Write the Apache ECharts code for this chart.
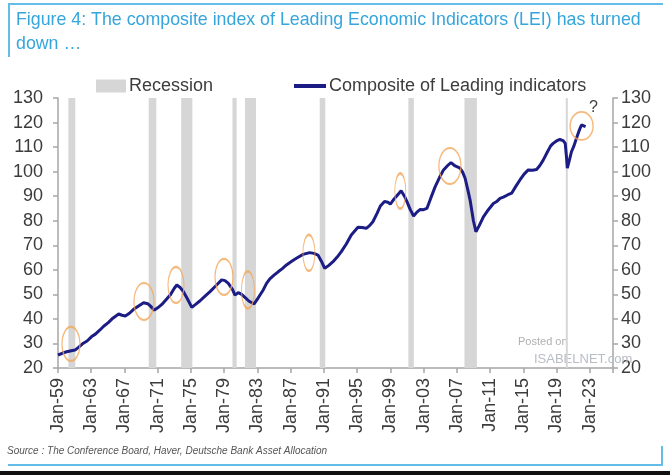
<!DOCTYPE html>
<html><head><meta charset="utf-8">
<script src="https://cdn.jsdelivr.net/npm/echarts@6/dist/echarts.min.js"></script>
<style>html,body{margin:0;padding:0;background:#fff}#c{width:670px;height:475px}</style>
</head><body><div id="c"></div>
<script>
// ---- data (decimal years) ----
const baseYear = 1959;
const leiYears = [1959.0,1959.5,1960.05,1960.6,1961.05,1961.5,1962.05,1962.5,1963.05,1963.5,1964.05,1964.5,1965.05,1965.6,1966.3,1966.7,1967.1,1967.6,1968.1,1968.7,1969.3,1969.8,1970.1,1970.6,1971.0,1971.5,1972.0,1972.5,1973.0,1973.3,1973.7,1974.1,1974.6,1975.1,1975.6,1976.1,1976.7,1977.3,1978.0,1978.7,1979.1,1979.5,1980.0,1980.3,1980.7,1981.1,1981.5,1982.0,1982.6,1983.1,1983.7,1984.1,1984.5,1985.0,1985.5,1986.0,1986.5,1987.0,1987.5,1988.0,1988.5,1989.3,1989.8,1990.3,1990.7,1991.1,1991.6,1992.1,1992.6,1993.1,1993.7,1994.3,1995.1,1995.6,1996.1,1996.5,1996.9,1997.4,1997.8,1998.3,1998.7,1999.0,1999.5,2000.0,2000.3,2000.7,2001.0,2001.4,2001.8,2002.2,2002.6,2003.0,2003.4,2003.9,2004.4,2004.9,2005.4,2005.9,2006.3,2006.8,2007.4,2007.7,2008.0,2008.3,2008.6,2009.0,2009.3,2009.7,2010.2,2010.8,2011.4,2011.8,2012.2,2012.6,2013.1,2013.6,2014.1,2014.6,2015.1,2015.6,2016.1,2016.6,2017.0,2017.4,2017.9,2018.3,2018.6,2019.0,2019.4,2019.8,2020.05,2020.2,2020.3,2020.5,2020.8,2021.1,2021.4,2021.7,2022.0,2022.2,2022.5];
const leiValues = [25.3,26.0,26.6,27.0,27.3,28.5,30.1,31.0,32.8,33.8,35.5,37.0,38.5,40.3,42.0,41.5,41.2,42.3,43.9,45.3,46.6,46.2,45.3,43.6,44.5,45.9,47.8,49.7,52.5,53.8,52.8,51.1,48.0,44.7,46.0,47.4,49.3,51.1,53.5,55.9,55.6,54.5,52.0,49.7,50.7,50.0,48.8,47.2,46.1,48.6,51.8,54.5,56.3,57.8,59.2,60.5,62.0,63.2,64.3,65.3,66.3,67.0,66.7,66.0,63.5,60.6,61.8,63.3,65.2,67.4,70.5,74.2,77.3,77.2,76.9,78.0,79.6,83.0,86.0,87.8,87.5,86.8,89.1,91.0,92.2,90.0,87.8,84.5,81.9,83.5,84.6,84.5,85.0,89.5,93.9,97.5,100.7,102.5,103.7,102.3,101.4,99.8,97.3,93.0,88.4,80.0,75.5,78.0,81.6,84.5,87.0,87.8,89.1,89.6,90.5,91.2,94.0,96.6,99.0,100.7,100.6,100.9,102.5,104.7,108.0,110.5,111.5,112.5,113.1,112.6,111.5,106.0,101.4,104.0,108.1,110.5,113.6,116.5,119.0,119.3,118.3];
const recessionStart = [1960.25,1969.92,1973.83,1980.0,1981.5,1990.5,2001.17,2007.92,2020.12];
const recessionEnd   = [1961.08,1970.83,1975.17,1980.5,1982.83,1991.17,2001.83,2009.42,2020.30];
// highlighted turning points (centres)
const hlYears  = [1960.56,1969.35,1973.2,1978.98,1981.86,1989.2,2000.2,2006.17,2022.02];
const hlValues = [29.8,47.1,53.8,57.1,51.8,66.9,92.1,102.3,118.6];
const yTicks = [20,30,40,50,60,70,80,90,100,110,120,130];

// ---- styles ----
const hlSize = [[18,34],[20,37],[16,36],[18,36],[13,37],[12,36],[11,35],[22,36],[23,28]];
const FONT = '"Liberation Sans", Arial, sans-serif';
const labelColor = '#3c3c3c';
const axisColor = '#a6a6a6';

const chart = echarts.init(document.getElementById('c'), null, {renderer:'canvas'});
const lineData = leiYears.map((y,i)=>[y-baseYear, leiValues[i]]);
const recData = recessionStart.map((s,i)=>[s-baseYear, recessionEnd[i]-baseYear]);
const hlData = hlYears.map((y,i)=>[y-baseYear, hlValues[i]]);

function yAxisCfg(pos, margin) {
  return {
    type:'value', position:pos, min:yTicks[0], max:yTicks[yTicks.length-1], interval:10,
    axisLine:{show:true, lineStyle:{color:axisColor, width:1.5}},
    axisTick:{show:true, length:5, lineStyle:{color:axisColor, width:1.5}},
    splitLine:{show:false},
    axisLabel:{color:labelColor, fontSize:18, fontFamily:FONT, margin:margin}
  };
}

chart.setOption({
  animation:false,
  backgroundColor:'#fff',
  grid:{left:58, right:57, top:98, bottom:107},
  legend:[
    {left:91, top:72, itemWidth:30, itemHeight:13, itemGap:0, data:[{name:'Recession', icon:'rect'}],
     textStyle:{fontSize:18, color:labelColor, fontFamily:FONT, padding:[0,0,0,-2]}},
    {left:289, top:72, itemWidth:32, itemHeight:4, data:[{name:'Composite of Leading indicators', icon:'rect'}],
     textStyle:{fontSize:18, color:labelColor, fontFamily:FONT, padding:[0,0,0,-2]}}
  ],
  xAxis:{
    type:'value', min:0, max:66.8, interval:4,
    axisLine:{show:true, lineStyle:{color:axisColor, width:1.5}},
    axisTick:{show:true, length:5, lineStyle:{color:axisColor, width:1.5}},
    splitLine:{show:false},
    axisLabel:{rotate:90, margin:10, color:labelColor, fontSize:18, fontFamily:FONT,
      formatter:v=>{ if (v > 64.5) return ''; const yy=(baseYear+Math.round(v))%100; return 'Jan-'+String(yy).padStart(2,'0'); }}
  },
  yAxis:[ yAxisCfg('left', 15), yAxisCfg('right', 8) ],
  graphic:[
    {type:'line', shape:{x1:8,y1:4,x2:663,y2:4}, style:{stroke:'#64bde9', lineWidth:2}},
    {type:'line', shape:{x1:9,y1:4,x2:9,y2:57}, style:{stroke:'#64bde9', lineWidth:2}},
    {type:'text', left:16, top:11, style:{text:'Figure 4: The composite index of Leading Economic Indicators (LEI) has turned', fill:'#35a5dc', font:'17.8px '+FONT}},
    {type:'text', left:16, top:35, style:{text:'down …', fill:'#35a5dc', font:'17.8px '+FONT}},
    {type:'line', shape:{x1:8,y1:465,x2:663,y2:465}, style:{stroke:'#64bde9', lineWidth:2}},
    {type:'line', shape:{x1:662,y1:446,x2:662,y2:466}, style:{stroke:'#64bde9', lineWidth:2}},
    {type:'rect', shape:{x:0,y:471,width:670,height:4}, style:{fill:'#111'}},
    {type:'text', left:7, top:446, style:{text:'Source : The Conference Board, Haver, Deutsche Bank Asset Allocation', fill:'#555', font:'italic 10px '+FONT}},
    {type:'text', left:518, top:336, z:1, style:{text:'Posted on', fill:'#b0b0b0', font:'11px '+FONT}},
    {type:'text', left:534, top:353, z:1, style:{text:'ISABELNET.com', fill:'#b8bcc4', font:'13px '+FONT}},
    {type:'text', left:589, top:100, z:100, style:{text:'?', fill:'#404040', font:'16px '+FONT}}
  ],
  series:[
    {
      name:'Recession', type:'custom', z:1, itemStyle:{color:'#d6d6d6'},
      data:recData,
      encode:{x:[0,1]},
      renderItem:(params, api)=>{
        const a = api.coord([api.value(0), 130]);
        const b = api.coord([api.value(1), 20]);
        return {type:'rect', shape:{x:a[0], y:a[1], width:Math.max(b[0]-a[0], 2), height:b[1]-a[1]},
                style:{fill:'#d6d6d6'}};
      }
    },
    {
      name:'Composite of Leading indicators', type:'line', z:5, data:lineData,
      showSymbol:false, symbol:'none', smooth:false,
      lineStyle:{color:'#1c1c85', width:3}, itemStyle:{color:'#1c1c85'}
    },
    {
      name:'highlight', type:'scatter', z:6, data:hlData,
      symbol:'circle', symbolSize:(v,p)=>hlSize[p.dataIndex],
      itemStyle:{color:'rgba(0,0,0,0)', borderColor:'#f4a75c', borderWidth:1.6}
    }
  ]
});
</script></body></html>
